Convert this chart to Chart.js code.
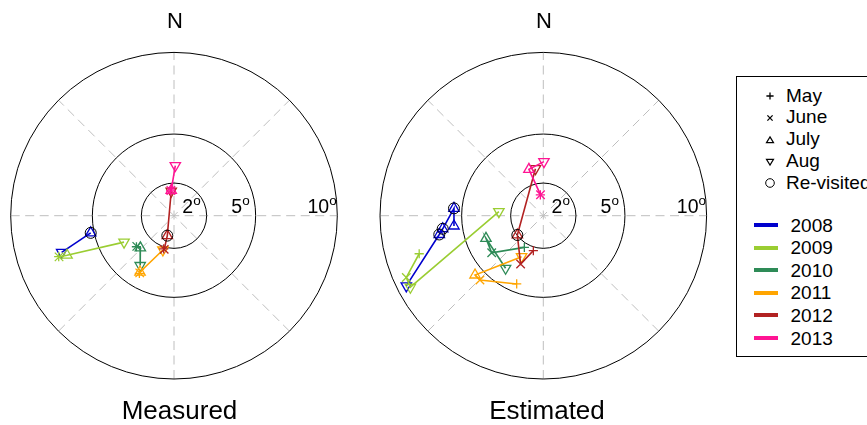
<!DOCTYPE html>
<html>
<head>
<meta charset="utf-8">
<script src="https://cdn.jsdelivr.net/npm/chart.js@4.4.0/dist/chart.umd.min.js"></script>
<style>
  html, body { margin: 0; padding: 0; background: #fff; }
  body { width: 867px; height: 425px; position: relative; overflow: hidden;
         font-family: "Liberation Sans", Arial, sans-serif; color: #000; }
  canvas { position: absolute; top: 0; }
  .txt { position: absolute; line-height: 1; white-space: nowrap; }
  .ctr { text-align: center; width: 200px; }
  #legendBox { position: absolute; left: 735.5px; top: 75.5px; width: 160px; height: 281px;
               border: 1.5px solid #000; box-sizing: border-box; }
</style>
</head>
<body>
<canvas id="measuredChart" width="360" height="425" style="left:0"></canvas>
<canvas id="estimatedChart" width="360" height="425" style="left:370px"></canvas>
<div class="txt ctr" style="left:75px; top:10px; font-size:22px">N</div>
<div class="txt ctr" style="left:444px; top:10px; font-size:22px">N</div>
<div class="txt ctr" style="left:79.5px; top:397px; font-size:26px">Measured</div>
<div class="txt ctr" style="left:447px; top:397px; font-size:26px">Estimated</div>
<div id="legendBox"></div>
<script>
// tilt offsets in degrees (east, north), one inner list per year
var years = ['2008', '2009', '2010', '2011', '2012', '2013'];
var yearColors = ['#0000CD', '#9ACD32', '#2E8B57', '#FFA500', '#B22222', '#FF1493'];
var ringValues = [2, 5, 10];
var monthLabels = ['May', 'June', 'July', 'Aug', 'Re-visited'];

var measEast = [
  [-5.10, -6.88],
  [-7.06, -7.04, -6.55, -3.06],
  [-2.30, -2.28, -2.06, -2.07],
  [-2.12, -2.10, -2.08, -0.68],
  [-0.63, -0.60, -0.41, -0.17],
  [-0.21, -0.19, -0.17, 0.08]
];
var measNorth = [
  [-1.05, -2.25],
  [-2.50, -2.52, -2.42, -1.62],
  [-1.90, -1.88, -1.97, -3.05],
  [-3.53, -3.50, -3.45, -2.10],
  [-2.03, -2.06, -1.22, 1.50],
  [1.52, 1.54, 1.55, 3.07]
];
var measMonth = [
  ['Jul', 'Aug'],
  ['May', 'Jun', 'Jul', 'Aug'],
  ['May', 'Jun', 'Jul', 'Aug'],
  ['May', 'Jun', 'Jul', 'Aug'],
  ['May', 'Jun', 'Jul', 'Aug'],
  ['May', 'Jun', 'Jul', 'Aug']
];
var measRevisit = [[1, 0], [0, 0, 0, 0], [0, 0, 0, 0], [0, 0, 0, 0], [0, 0, 1, 0], [0, 0, 0, 0]];

var estEast = [
  [-5.47, -5.47, -6.16, -6.37, -8.39],
  [-7.60, -8.39, -8.14, -2.72],
  [-1.16, -3.16, -3.51, -2.31],
  [-1.63, -3.88, -4.18, -1.33],
  [-0.61, -1.39, -1.59, -0.48],
  [-0.18, -0.17, -0.88, 0.04]
];
var estNorth = [
  [-0.63, 0.45, -0.80, -1.15, -4.30],
  [-2.33, -3.78, -4.38, 0.25],
  [-1.94, -2.27, -1.39, -3.22],
  [-4.18, -3.94, -3.63, -2.51],
  [-2.14, -2.96, -1.18, 2.88],
  [1.27, 1.28, 2.84, 3.31]
];
var estMonth = [
  ['Jul', 'Jul', 'Jul', 'Jul', 'Aug'],
  ['May', 'Jun', 'Aug', 'Aug'],
  ['May', 'Jun', 'Jul', 'Aug'],
  ['May', 'Jun', 'Jul', 'Aug'],
  ['May', 'Jun', 'Jul', 'Aug'],
  ['May', 'Jun', 'Jul', 'Aug']
];
var estRevisit = [[0, 1, 1, 1, 0], [0, 0, 0, 0], [0, 0, 0, 0], [0, 0, 0, 0], [0, 0, 1, 0], [0, 0, 0, 0]];

var markerStyle = { May: 'cross', Jun: 'crossRot', Jul: 'triangle', Aug: 'triangle' };
var markerSize = { May: 4.6, Jun: 6, Jul: 6, Aug: 6 };
var font = '"Liberation Sans", Arial, sans-serif';

// rings, dashed spokes and ring labels
var polarGrid = {
  id: 'polarGrid',
  beforeDatasetsDraw: function(chart) {
    var ctx = chart.ctx, xs = chart.scales.x, ys = chart.scales.y;
    var cx = xs.getPixelForValue(0), cy = ys.getPixelForValue(0);
    var unit = xs.getPixelForValue(1) - cx;
    var rMax = ringValues[ringValues.length - 1] * unit;
    ctx.save();
    ctx.strokeStyle = '#bebebe';
    ctx.lineWidth = 1;
    ctx.setLineDash([9, 5.5]);
    [0, 45, 90, 135].forEach(function(a) {
      var rad = a * Math.PI / 180;
      var dx = Math.cos(rad) * rMax, dy = Math.sin(rad) * rMax;
      ctx.beginPath();
      ctx.moveTo(cx - dx, cy + dy);
      ctx.lineTo(cx + dx, cy - dy);
      ctx.stroke();
    });
    ctx.setLineDash([]);
    ctx.strokeStyle = '#000';
    ringValues.forEach(function(r) {
      ctx.beginPath();
      ctx.arc(cx, cy, r * unit, 0, 2 * Math.PI);
      ctx.stroke();
    });
    ctx.fillStyle = '#000';
    ctx.textBaseline = 'alphabetic';
    ctx.textAlign = 'left';
    ringValues.forEach(function(r) {
      ctx.font = '19.5px ' + font;
      var w1 = ctx.measureText(String(r)).width;
      ctx.font = '13.5px ' + font;
      var w2 = ctx.measureText('o').width;
      var x0 = cx + (r - 0.93) * unit - (w1 + w2) / 2;
      ctx.font = '19.5px ' + font;
      ctx.fillText(String(r), x0, cy - 2.3);
      ctx.font = '13.5px ' + font;
      ctx.fillText('o', x0 + w1, cy - 10.6);
    });
    ctx.restore();
  }
};

function buildDatasets(east, north, month, revisit) {
  var sets = [];
  var circles = [];
  years.forEach(function(yr, i) {
    var pts = east[i].map(function(e, j) {
      if (revisit[i][j]) circles.push({ x: e, y: north[i][j] });
      return { x: e, y: north[i][j] };
    });
    sets.push({
      label: yr,
      data: pts,
      showLine: true,
      borderColor: yearColors[i],
      borderWidth: 1.6,
      pointStyle: month[i].map(function(m) { return markerStyle[m]; }),
      pointRadius: month[i].map(function(m) { return markerSize[m]; }),
      pointRotation: month[i].map(function(m) { return m === 'Aug' ? 180 : 0; }),
      pointBorderColor: yearColors[i],
      pointBackgroundColor: 'rgba(0,0,0,0)',
      pointBorderWidth: 1.3,
      clip: false,
      order: 10 - i
    });
  });
  sets.push({
    label: 'Re-visited',
    data: circles,
    showLine: false,
    pointStyle: 'circle',
    pointRadius: 5.5,
    pointBorderColor: '#000',
    pointBackgroundColor: 'rgba(0,0,0,0)',
    pointBorderWidth: 1,
    clip: false,
    order: 0
  });
  return sets;
}

function makeChart(id, padLeft, padRight, east, north, month, revisit) {
  var ctx = document.getElementById(id).getContext('2d');
  return new Chart(ctx, {
    type: 'scatter',
    data: { datasets: buildDatasets(east, north, month, revisit) },
    options: {
      responsive: false,
      animation: false,
      devicePixelRatio: 1,
      events: [],
      layout: { padding: { left: padLeft, right: padRight, top: 52.4, bottom: 46 } },
      scales: {
        x: { type: 'linear', min: -10, max: 10, display: false },
        y: { type: 'linear', min: -10, max: 10, display: false }
      },
      plugins: { legend: { display: false }, tooltip: { enabled: false } }
    },
    plugins: [polarGrid]
  });
}

makeChart('measuredChart', 10.7, 22.7, measEast, measNorth, measMonth, measRevisit);
makeChart('estimatedChart', 10, 23.4, estEast, estNorth, estMonth, estRevisit);

// legend: marker rows then year rows
var symbolSvg = [
  '<path d="M3.4 7H10.6M7 3.4V10.6" stroke="#000" stroke-width="1.3" fill="none"/>',
  '<path d="M4.4 4.4L9.6 9.6M9.6 4.4L4.4 9.6" stroke="#000" stroke-width="1.3" fill="none"/>',
  '<path d="M7 3.9L10.5 9.7H3.5Z" stroke="#000" stroke-width="1.2" fill="none"/>',
  '<path d="M3.5 4.3H10.5L7 10.1Z" stroke="#000" stroke-width="1.2" fill="none"/>',
  '<circle cx="7" cy="7" r="4.3" stroke="#000" stroke-width="1" fill="none"/>'
];
var legendFs = 19;
var html = '';
monthLabels.forEach(function(lbl, i) {
  var base = 101.7 + 21.8 * i;
  html += '<svg style="position:absolute;left:763px;top:' + (base - 12.5) + 'px" width="14" height="14">' + symbolSvg[i] + '</svg>';
  html += '<div class="txt" style="left:786px;top:' + (base - 0.8465 * legendFs) + 'px;font-size:' + legendFs + 'px">' + lbl + '</div>';
});
years.forEach(function(yr, i) {
  var base = 231.7 + 22.6 * i;
  html += '<div style="position:absolute;left:754px;width:24px;height:4px;background:' + yearColors[i] + ';top:' + (base - 8.7) + 'px"></div>';
  html += '<div class="txt" style="left:790.5px;top:' + (base - 0.8465 * legendFs) + 'px;font-size:' + legendFs + 'px">' + yr + '</div>';
});
document.body.insertAdjacentHTML('beforeend', html);
</script>
</body>
</html>
